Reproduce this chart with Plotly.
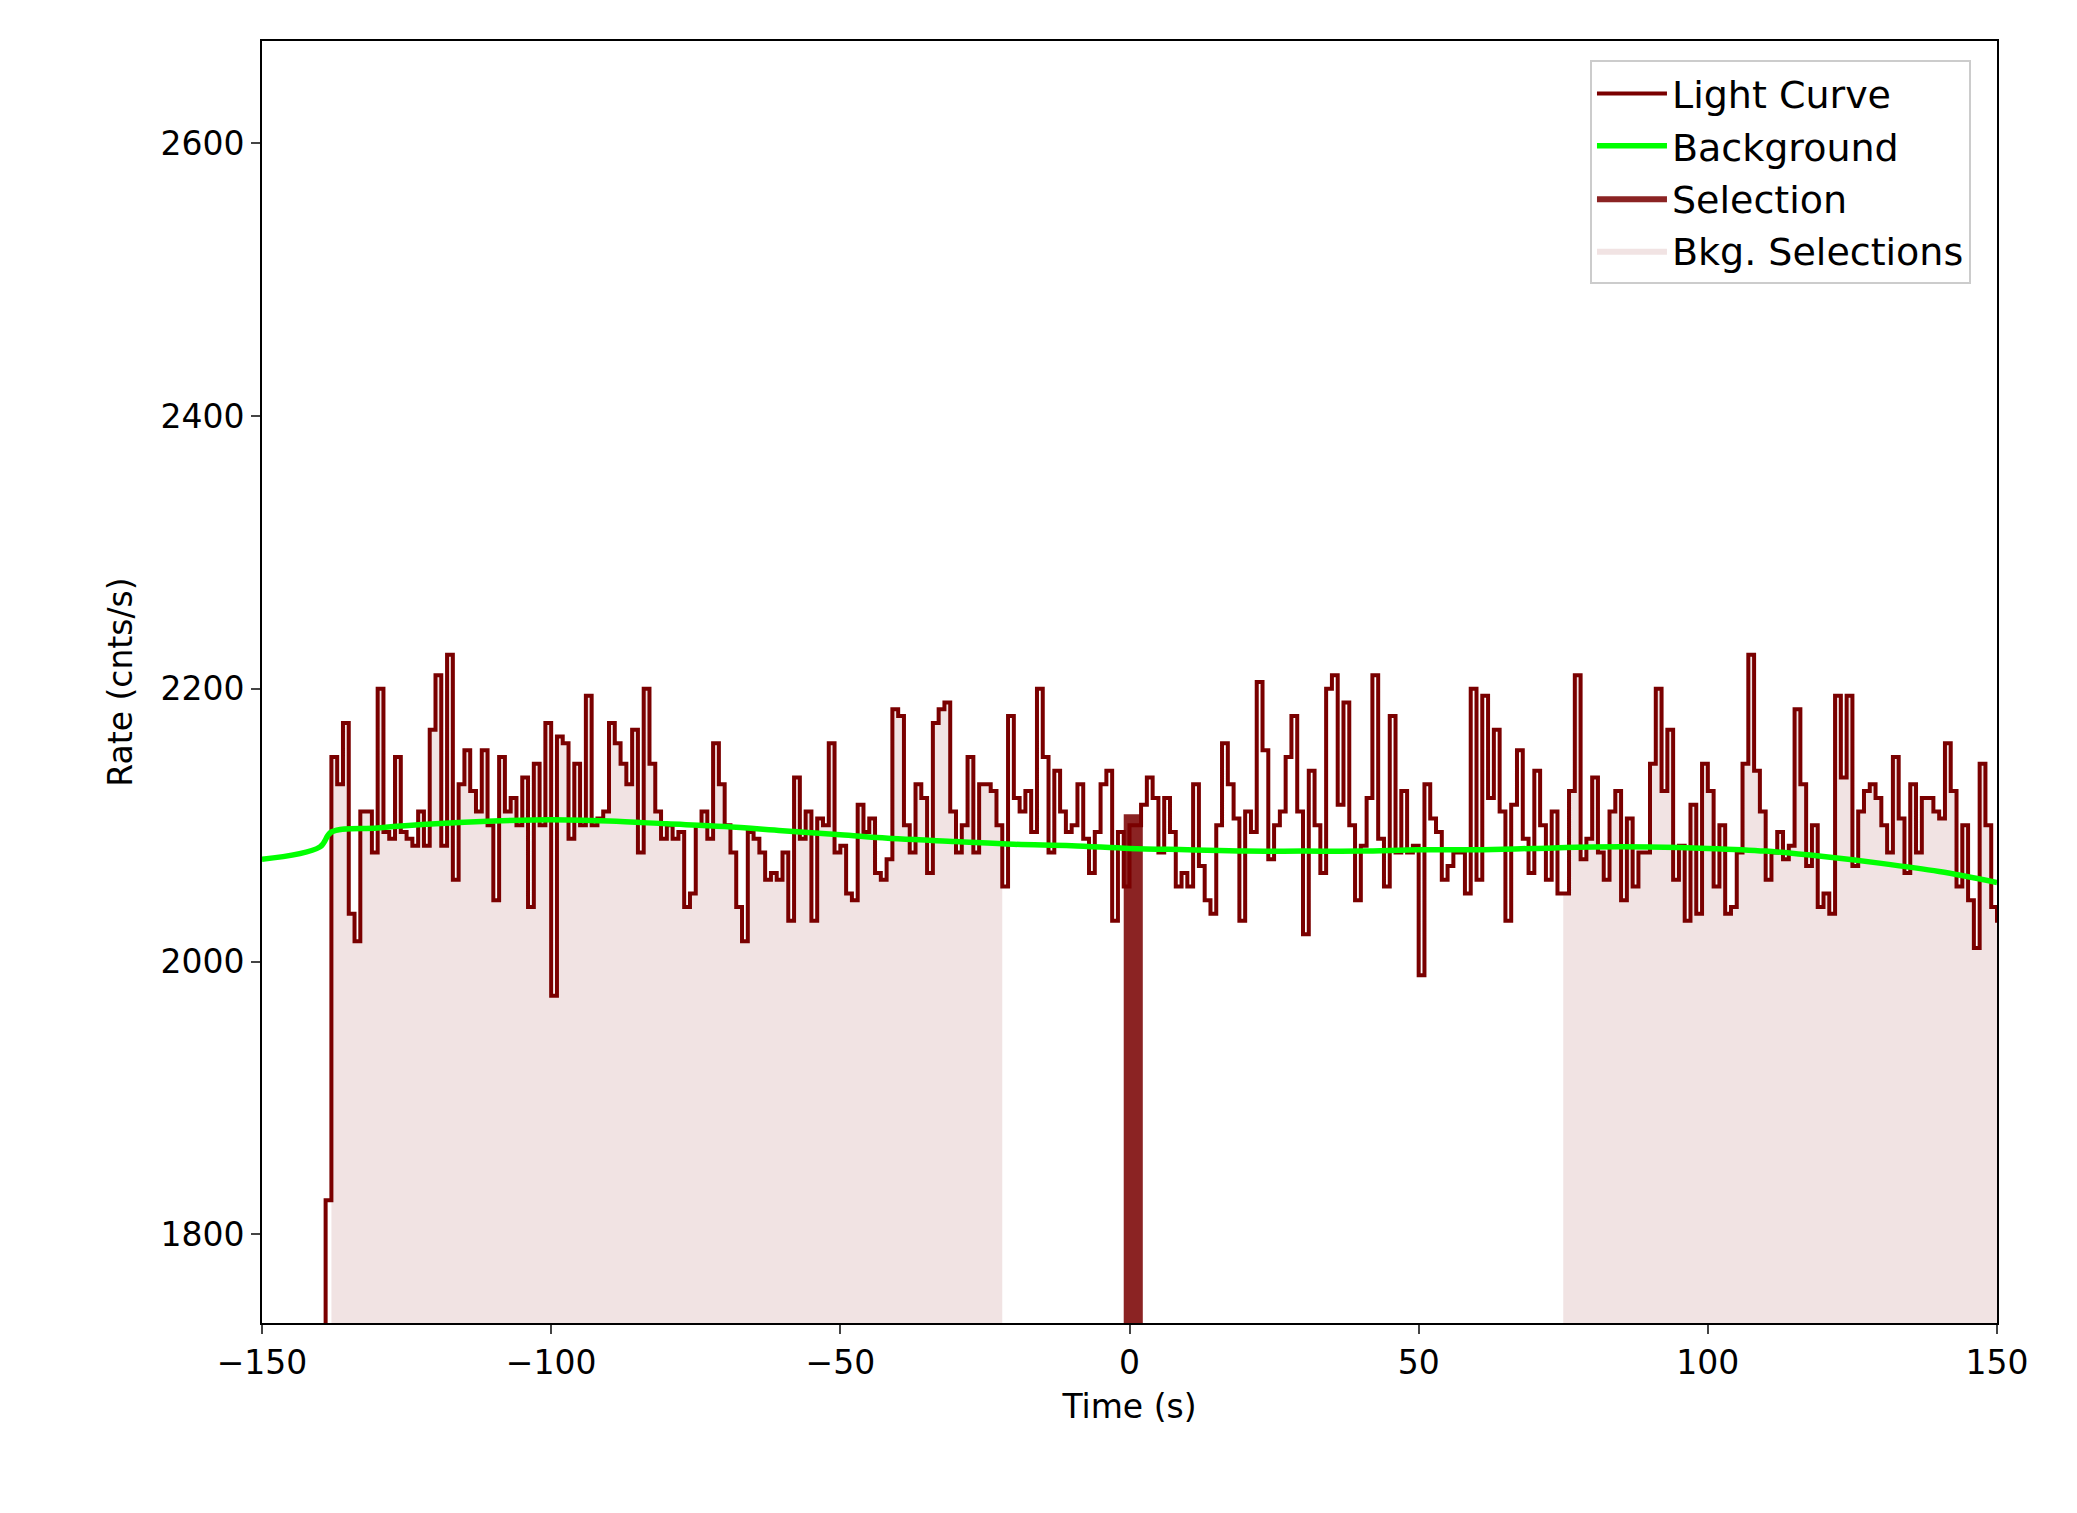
import plotly.graph_objects as go

t_start = -139
rates = [
1825,
2150,2130,2175,2035,2015,2110,2110,2080,2200,
2095,2090,2150,2095,2090,2085,2110,2085,2170,2210,
2085,2225,2060,2130,2155,2125,2110,2155,2100,2045,
2150,2110,2120,2100,2135,2040,2145,2100,2175,1975,
2165,2160,2090,2145,2100,2195,2100,2105,2110,2175,
2160,2145,2130,2170,2080,2200,2145,2110,2090,2100,
2090,2095,2040,2050,2100,2110,2090,2160,2130,2100,
2080,2040,2015,2095,2090,2080,2060,2065,2060,2080,
2030,2135,2090,2110,2030,2105,2100,2160,2080,2085,
2050,2045,2115,2095,2105,2065,2060,2075,2185,2180,
2100,2080,2130,2120,2065,2175,2185,2190,2110,2080,
2100,2150,2080,2130,2130,2125,2100,2055,2180,2120,
2110,2125,2095,2200,2150,2080,2140,2110,2095,2100,
2130,2090,2065,2095,2130,2140,2030,2095,2055,2100,
2100,2115,2135,2120,2080,2120,2095,2055,2065,2055,
2130,2070,2045,2035,2100,2160,2130,2105,2030,2110,
2095,2205,2155,2075,2100,2110,2150,2180,2110,2020,
2140,2100,2065,2200,2210,2115,2190,2100,2045,2085,
2120,2210,2090,2055,2180,2080,2125,2080,2085,1990,
2130,2105,2095,2060,2070,2080,2080,2050,2200,2060,
2195,2120,2170,2110,2030,2115,2155,2090,2065,2140,
2100,2060,2110,2050,2050,2125,2210,2075,2090,2135,
2080,2060,2110,2125,2045,2105,2055,2080,2080,2145,
2200,2125,2170,2060,2085,2030,2115,2035,2145,2125,
2055,2100,2035,2040,2080,2145,2225,2140,2110,2060,
2080,2095,2075,2085,2185,2130,2070,2100,2040,2050,
2035,2195,2135,2195,2070,2110,2125,2130,2120,2100,
2080,2150,2105,2065,2130,2080,2120,2120,2110,2105,
2160,2125,2055,2100,2045,2010,2145,2100,2040,2030,
]
bkg_t = [-150,-140,-138,-130,-120,-110,-100,-90,-80,-70,-60,-50,-40,-30,-20,-10,0,10,20,30,40,50,60,70,80,90,100,110,120,130,140,150]
bkg_v = [2075,2084,2095,2098,2101,2103,2104,2103,2101,2099,2096,2093,2090,2088,2086,2085,2083,2082,2081,2081,2081,2082,2082,2083,2084,2084,2083,2081,2077,2072,2066,2058]
sel_range = [-1.0, 2.3]
sel_top = 2108
bkg_sel = [(-138, -22), (75, 150)]

times = [t_start + i for i in range(len(rates))]
x_step = times + [times[-1] + 1]
y_step = rates + [rates[-1]]

fig = go.Figure()
for k, (a, b) in enumerate(bkg_sel):
    xs = [x for x in x_step if a <= x <= b]
    ys = [y_step[x_step.index(x)] for x in xs]
    fig.add_trace(go.Scatter(x=xs, y=ys, mode='lines', line=dict(shape='hv', width=0),
                             fill='tozeroy', fillcolor='rgba(128,0,0,0.11)',
                             name='Bkg. Selections', showlegend=(k == 0), legendrank=4))
fig.add_trace(go.Scatter(x=[sel_range[0], sel_range[0], sel_range[1], sel_range[1]],
                         y=[0, sel_top, sel_top, 0], mode='lines', fill='toself',
                         fillcolor='rgba(139,35,35,1)', line=dict(width=0, color='rgb(139,35,35)'),
                         name='Selection', legendrank=3))
fig.add_trace(go.Scatter(x=[t_start, t_start] + x_step, y=[0, rates[0]] + y_step, mode='lines',
                         line=dict(shape='hv', color='#7a0000', width=4),
                         name='Light Curve', legendrank=1))
fig.add_trace(go.Scatter(x=bkg_t, y=bkg_v, mode='lines', line=dict(color='#00ff00', width=5.5, shape='spline'),
                         name='Background', legendrank=2))

fig.update_layout(
    width=2077, height=1513, paper_bgcolor='white', plot_bgcolor='white',
    margin=dict(l=254, r=88, t=33, b=198),
    font=dict(family='DejaVu Sans', size=32, color='black'),
    showlegend=True,
    legend=dict(x=0.985, y=0.985, xanchor='right', yanchor='top', bordercolor='#cccccc',
                borderwidth=2, bgcolor='rgba(255,255,255,0.8)', font=dict(size=38),
                tracegroupgap=10, itemwidth=70),
)
fig.update_xaxes(range=[-150, 150], tickvals=[-150, -100, -50, 0, 50, 100, 150],
                 ticktext=['\u2212150', '\u2212100', '\u221250', '0', '50', '100', '150'],
                 showline=True, linecolor='black', linewidth=2, mirror=True, ticks='outside',
                 ticklen=9, tickwidth=2, showgrid=False, zeroline=False,
                 title=dict(text='Time (s)', font=dict(size=33), standoff=14), tickfont=dict(size=33))
fig.update_yaxes(range=[1735, 2675], tickvals=[1800, 2000, 2200, 2400, 2600],
                 showline=True, linecolor='black', linewidth=2, mirror=True, ticks='outside',
                 ticklen=9, tickwidth=2, showgrid=False, zeroline=False,
                 title=dict(text='Rate (cnts/s)', font=dict(size=33), standoff=18), tickfont=dict(size=33))
fig.write_html('out.html')
